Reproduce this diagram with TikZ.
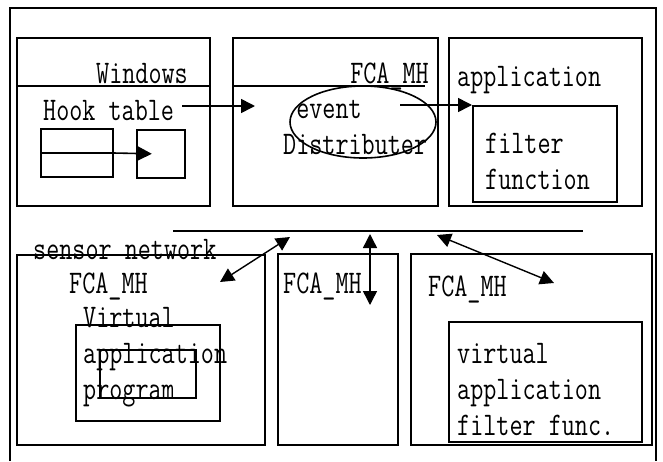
\documentclass[tikz,border=0pt]{standalone}
\usepackage{fontspec}
\newfontfamily\lblfont{Latin Modern Mono}[FakeStretch=0.77]
\usetikzlibrary{shapes.geometric, arrows.meta, positioning, calc}

\begin{document}
\begin{tikzpicture}[
		x=1pt, y=-1pt,
		box/.style={draw, line width=1.6pt, inner sep=0pt, anchor=north west},
		txt/.style={inner sep=0pt, align=left, font=\lblfont\fontsize{33}{36}\selectfont},
		arr/.style={-{Triangle[length=14pt, width=14pt]}, line width=1.6pt},
		darr/.style={{Triangle[length=14pt, width=14pt]}-{Triangle[length=14pt, width=14pt]}, line width=1.4pt}
	]
		\useasboundingbox (0,0) rectangle (663,461);
		% outer frame, open at the bottom
		\draw[line width=1.2pt] (10,461) -- (10,8) -- (656,8) -- (656,461);

		% upper row
		\node[box, minimum width=193pt, minimum height=168pt] (win) at (16,37) {};
		\node[box, minimum width=205pt, minimum height=168pt] (fca) at (232,37) {};
		\node[box, minimum width=193pt, minimum height=168pt] (app) at (448,37) {};
		\node[box, minimum width=144pt, minimum height=96pt] (filt) at (472,105) {};
		\draw[line width=1.6pt] (win.west |- 0,86) -- (win.east |- 0,86);
		\draw[line width=1.6pt] (fca.west |- 0,86) -- (425,86);

		\node[txt, anchor=north east] (wintxt) at (188,63) {Windows};
		\node[txt, anchor=north east] (fcatxt) at (429,63) {FCA\_MH};
		\node[txt, anchor=north west] (apptxt) at (457,66) {application};
		\node[txt, anchor=north west] (hook) at (43,100) {Hook table};
		\node[txt, anchor=north west] (filttxt) at (485,133) {filter\\function};

		\node[box, minimum width=72pt, minimum height=48pt] (cella) at (40,128) {};
		\node[box, minimum width=48pt, minimum height=48pt] (cellb) at (136,129) {};
		\draw[line width=1.6pt] (cella.west) -- (cella.east);

		\node[draw, ellipse, line width=1.6pt, minimum width=146pt, minimum height=72pt] (dist) at (363,122) {};
		\node[txt, anchor=north west] (evtxt) at (283,100) {\hphantom{x}event\\Distributer};

		\coordinate (hkend) at (255,106);
		\coordinate (evout) at (400,105);
		\draw[arr] ([xshift=8pt]hook.east |- hkend) -- (hkend);
		\draw[arr] (evout) -- (filt.north west);
		\draw[arr] ([xshift=27pt]cella.center) -- ([xshift=-9pt]cellb.center);

		% sensor network
		\coordinate (busl) at (173,231);
		\coordinate (busr) at (583,231);
		\draw[line width=1.6pt] (busl) -- (busr);

		\node[box, minimum width=248pt, minimum height=190pt] (sens) at (16,254) {};
		\node[box, minimum width=144pt, minimum height=96pt] (vapp) at (75,324) {};
		\node[box, minimum width=96pt, minimum height=48pt] (prog) at (99,349) {};
		\node[box, minimum width=120pt, minimum height=191pt] (mid) at (277,253) {};
		\node[box, minimum width=241pt, minimum height=191pt] (rgt) at (410,253) {};
		\node[box, minimum width=193pt, minimum height=120pt] (vfil) at (448,321) {};

		\node[txt, anchor=north west] (senstxt) at (33,239) {sensor network};
		\node[txt, anchor=north west] (fcal) at (69,273) {FCA\_MH};
		\node[txt, anchor=north west] (virt) at (83,307) {Virtual\\application\\program};
		\node[txt, anchor=north west] (fcam) at (283,273) {FCA\_MH};
		\node[txt, anchor=north west] (fcar) at (428,276) {FCA\_MH};
		\node[txt, anchor=north west] (vfiltxt) at (457,343) {virtual\\application\\filter func.};

		\coordinate (la) at (220,282);
		\coordinate (lb) at (290,237);
		\coordinate (ma) at (370,234);
		\coordinate (mb) at (370,305);
		\coordinate (ra) at (437,235);
		\coordinate (rb) at (554,283);
		\draw[darr] (la) -- (lb);
		\draw[darr] (ma) -- (mb);
		\draw[darr] (ra) -- (rb);
	\end{tikzpicture}
\end{document}
